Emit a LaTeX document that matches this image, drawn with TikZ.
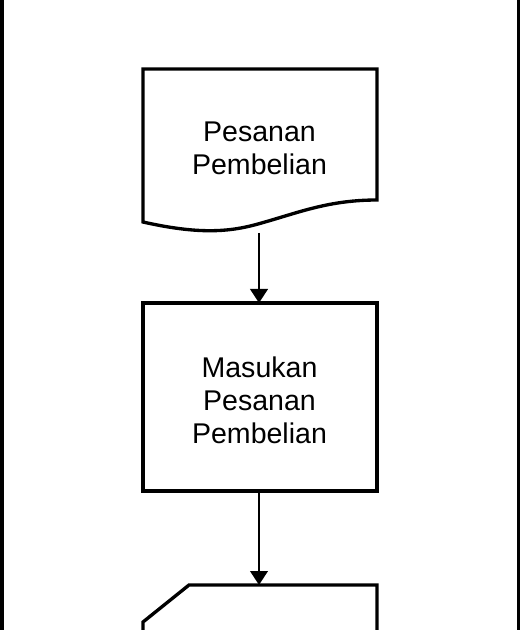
\documentclass[tikz,border=0pt]{standalone}
\usepackage{fontspec}
\setmainfont{Liberation Sans}
\usetikzlibrary{arrows.meta}
\begin{document}
\begin{tikzpicture}[x=0.75pt,y=-0.75pt,
  shapeline/.style={line width=2.5pt, line join=miter},
  conn/.style={line width=2.2pt,-{Triangle[length=10.5pt,width=13pt]}},
  lbl/.style={font=\fontsize{21.4pt}{24.8pt}\selectfont, align=center, inner sep=0pt}]
\useasboundingbox (0,0) rectangle (520,630);
\fill[white] (0,0) rectangle (520,630);
\fill[black] (0,0) rectangle (4,630);
\fill[black] (516.5,0) rectangle (520,630);
% document shape
\draw[shapeline] (143,222) -- (143,69) -- (377,69) -- (377,200)
  .. controls (330,200) and (300,212) .. (265,222)
  .. controls (235,231) and (205,236) .. (143,222) -- cycle;
\node[lbl] (doc) at (259.5,148) {Pesanan\\Pembelian};
\coordinate (docb) at (259,233);
% process box
\draw[shapeline] (143,303) rectangle (377,491);
\node[lbl] (proc) at (259.5,400) {Masukan\\Pesanan\\Pembelian};
\coordinate (proct) at (259,303);
\coordinate (procb) at (259,491);
% card shape (cut off)
\draw[shapeline] (143,640) -- (143,622) -- (189,585) -- (377,585) -- (377,640);
\coordinate (cardt) at (259,585);
\draw[conn] (docb) -- (proct);
\draw[conn] (procb) -- (cardt);
\end{tikzpicture}
\end{document}
